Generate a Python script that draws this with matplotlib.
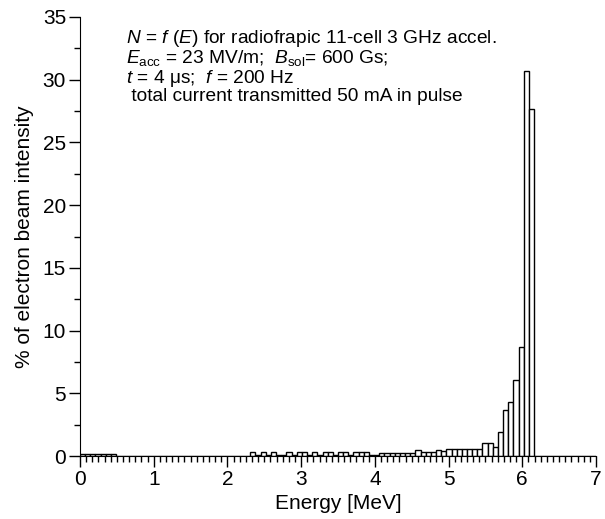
import numpy as np
import matplotlib
matplotlib.use('Agg')
import matplotlib.pyplot as plt
from matplotlib.ticker import MultipleLocator

plt.rcParams['font.family'] = ['Liberation Sans', 'DejaVu Sans']
plt.rcParams['mathtext.fontset'] = 'custom'
plt.rcParams['mathtext.rm'] = 'Liberation Sans'
plt.rcParams['mathtext.it'] = 'Liberation Sans:italic'

# ── data: 100 bins of 0.07 MeV, 0..7 MeV ──
BIN_W = 0.07
heights = (
    [0.12] * 7 +                                   # 0.00-0.49
    [0.03] * 26 +                                  # 0.49-2.31
    [0.35, 0.08, 0.35, 0.08, 0.35, 0.08, 0.08,     # 2.31-2.80
     0.35, 0.08, 0.35] +                           # 2.80-3.01
    [0.3, 0.1, 0.3, 0.1, 0.3, 0.3, 0.1, 0.3,       # 3.01-3.57
     0.3, 0.1, 0.3, 0.3, 0.3, 0.1] +               # 3.57-3.99
    [0.1, 0.25, 0.25, 0.25, 0.25, 0.25, 0.25,      # 3.99-4.48
     0.25, 0.5, 0.3, 0.3, 0.3, 0.5, 0.4] +         # 4.48-4.97
    [0.55, 0.55, 0.55, 0.55, 0.55, 0.55, 0.55,     # 4.97-5.46
     1.0, 1.0, 0.75] +                             # 5.46-5.67
    [1.9, 3.67, 4.3, 6.06, 8.7, 30.7, 27.7] +      # 5.67-6.16
    [0.0] * 12                                     # 6.16-7.00
)
edges = np.arange(len(heights)) * BIN_W

info_lines = [
    r'$N$ = $f$ ($E$) for radiofrapic 11-cell 3 GHz accel.',
    r'$E_{\rm acc}$ = 23 MV/m;  $B_{\rm sol}$= 600 Gs;',
    r'$t$ = 4 μs;  $f$ = 200 Hz',
    r' total current transmitted 50 mA in pulse',
]

fig = plt.figure(figsize=(6.05, 5.19), dpi=100)
ax = fig.add_axes([80/605, 1-456/519, (596-80)/605, (456-17)/519])

ax.bar(edges, heights, width=BIN_W, align='edge', color='white',
       edgecolor='black', linewidth=1.0)

ax.set_xlim(0, 7)
ax.set_ylim(0, 35)
ax.spines['top'].set_visible(False)
ax.spines['right'].set_visible(False)
ax.xaxis.set_major_locator(MultipleLocator(1))
ax.xaxis.set_minor_locator(MultipleLocator(1/12))
ax.yaxis.set_major_locator(MultipleLocator(5))
ax.yaxis.set_minor_locator(MultipleLocator(2.5))
ax.tick_params(which='major', length=8, width=1, labelsize=15, pad=2)
ax.tick_params(which='minor', length=4, width=1)

ax.set_xlabel('Energy [MeV]', fontsize=15, labelpad=4)
ax.set_ylabel('% of electron beam intensity', fontsize=15, labelpad=6)

for k, s in enumerate(info_lines):
    ax.text(0.09, 0.974 - k*0.0456, s, transform=ax.transAxes,
            fontsize=13.8, va='top', ha='left')

fig.savefig('out.png', dpi=100)
